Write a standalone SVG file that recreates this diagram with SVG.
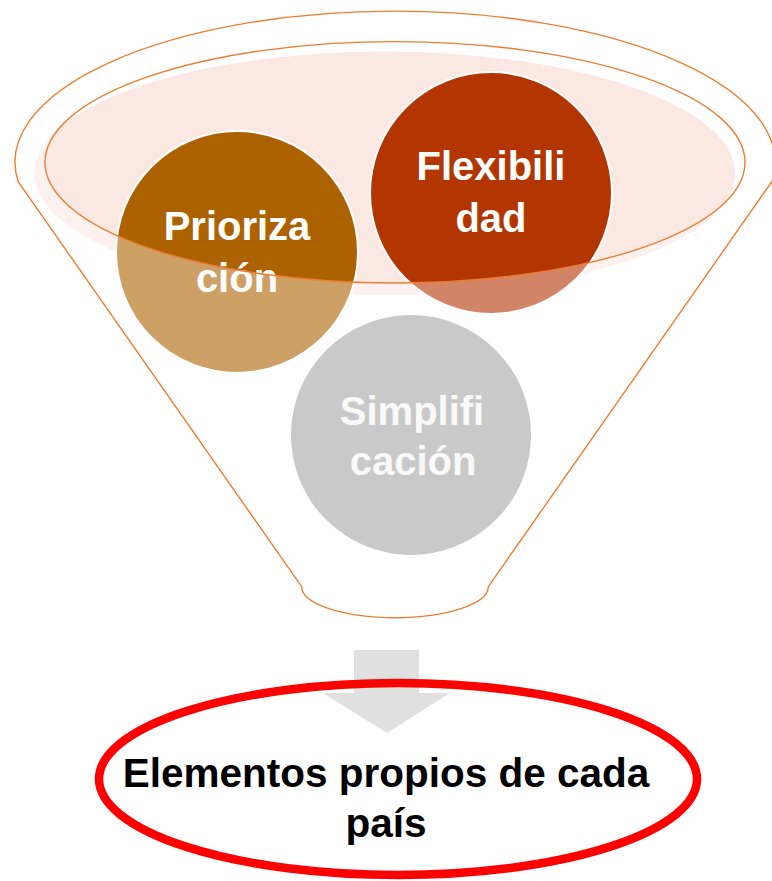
<svg xmlns="http://www.w3.org/2000/svg" width="772" height="881" viewBox="0 0 772 881">
  <style>
    .outline { fill: none; stroke: #ed7d31; stroke-width: 1.4; }
    .circle { stroke: #ffffff; stroke-width: 2; }
    .label { font-family: "Liberation Sans", Arial, sans-serif; font-weight: bold; font-size: 40px; text-anchor: middle; fill: #ffffff; }
    .result { font-family: "Liberation Sans", Arial, sans-serif; font-weight: bold; font-size: 40.5px; text-anchor: middle; fill: #000000; }
  </style>
  <rect width="772" height="881" fill="#ffffff"/>
  <g id="funnel-top">
    <ellipse cx="384.7" cy="173.3" rx="350.4" ry="121.7" fill="#fbe8e3"/>
  </g>
  <g id="node-priorizacion">
    <circle class="circle" cx="237" cy="252" r="121" fill="#ac6200"/>
    <text class="label" x="237" y="240">Prioriza</text>
    <text class="label" x="237" y="291.7">ción</text>
  </g>
  <g id="node-flexibilidad">
    <circle class="circle" cx="491" cy="193" r="121" fill="#b33500"/>
    <text class="label" x="491" y="180">Flexibili</text>
    <text class="label" x="491" y="231.7">dad</text>
  </g>
  <g id="node-simplificacion">
    <circle class="circle" cx="411" cy="435" r="121" fill="#a5a5a5"/>
    <text class="label" x="412" y="425" style="fill:#f6f6f6">Simplifi</text>
    <text class="label" x="413" y="474.5" style="fill:#f6f6f6">cación</text>
  </g>
  <g id="funnel">
    <path d="M 18.2 181.7 A 380 151 0 1 1 771.8 181.7 L 488.3 586.7 A 93.3 31 0 0 1 301.7 586.7 Z M 45 162.3 A 350 120.7 0 1 0 745 162.3 A 350 120.7 0 1 0 45 162.3 Z" fill="#ffffff" fill-opacity="0.4" fill-rule="evenodd"/>
    <path class="outline" d="M 18.2 181.7 A 380 151 0 1 1 771.8 181.7 L 488.3 586.7 A 93.3 31 0 0 1 301.7 586.7 Z"/>
    <ellipse class="outline" cx="395" cy="162.3" rx="350" ry="120.7"/>
  </g>
  <g id="connectors">
    <polygon points="354,650 419,650 419,693 450,693 387,733 323,693 354,693" fill="#e0e0e0"/>
  </g>
  <g id="node-resultado">
    <ellipse cx="398" cy="779" rx="299" ry="96" fill="none" stroke="#ff0000" stroke-width="8.5"/>
    <text class="result" x="386" y="786.7">Elementos propios de cada</text>
    <text class="result" x="386" y="836.7">país</text>
  </g>
</svg>
